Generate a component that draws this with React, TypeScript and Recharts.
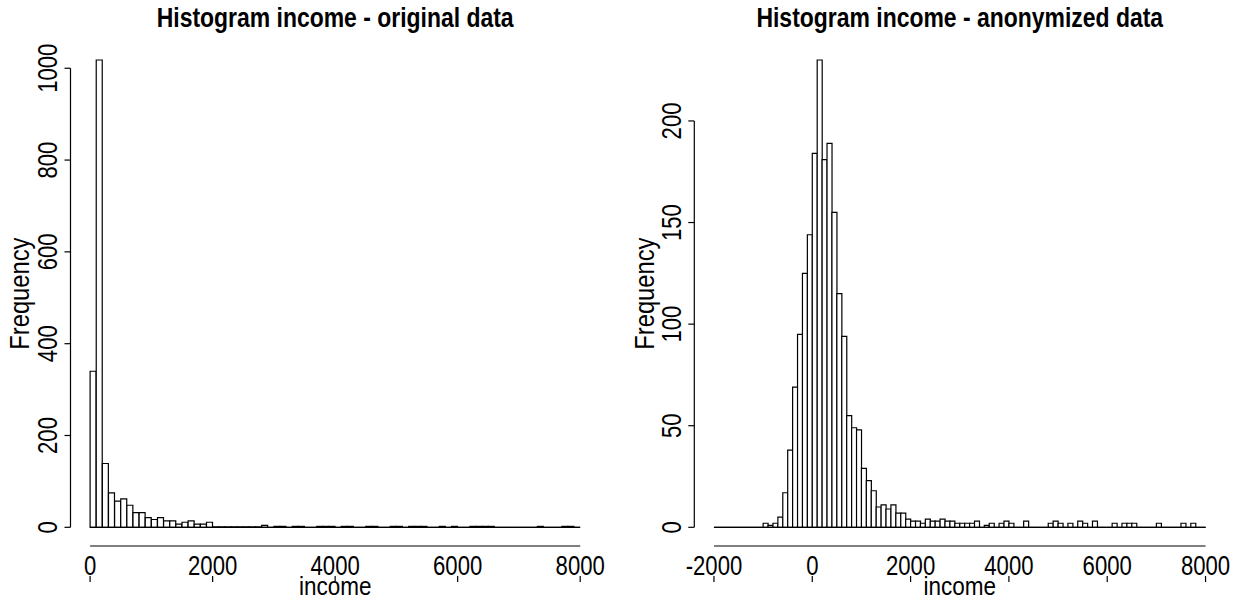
import React from 'react';
import { BarChart, Bar, XAxis, YAxis, ReferenceLine } from 'recharts';

const FONT = '"Liberation Sans", Arial, Helvetica, sans-serif';

// Histogram of the original data: bins of 100 starting at 0
const origBreakStart = 0;
const origBinWidth = 100;
const origCounts = [
  340, 1018, 139, 75, 57, 62, 48, 32, 32, 21,
  17, 21, 14, 14, 7, 11, 14, 7, 7, 11,
  1, 1, 1, 1, 1, 1, 1, 1, 4, 0,
  2, 2, 0, 2, 2, 0, 0, 2, 2, 2,
  0, 2, 2, 0, 0, 2, 2, 0, 0, 2,
  2, 0, 2, 2, 2, 0, 0, 2, 0, 2,
  0, 0, 2, 2, 2, 2, 0, 0, 0, 0,
  0, 0, 0, 2, 0, 0, 0, 2, 2, 0,
];
const origXTicks = [0, 2000, 4000, 6000, 8000];
const origYTicks = [0, 200, 400, 600, 800, 1000];

// Histogram of the anonymized data: bins of 100 starting at -2000
const anonBreakStart = -2000;
const anonBinWidth = 100;
const anonCounts = [
  0, 0, 0, 0, 0, 0, 0, 0, 0, 0,
  2, 1, 2, 5, 17, 38, 69, 95, 125, 144,
  184, 230, 181, 189, 155, 115, 94, 55, 49, 48,
  29, 23, 18, 10, 11, 9, 11, 7, 7, 4,
  3, 3, 2, 4, 3, 3, 4, 3, 3, 2,
  2, 2, 2, 3, 0, 1, 2, 0, 2, 3,
  2, 0, 0, 3, 0, 0, 0, 0, 2, 3,
  2, 0, 2, 0, 3, 2, 0, 3, 0, 0,
  0, 2, 0, 2, 2, 2, 0, 0, 0, 0,
  2, 0, 0, 0, 0, 2, 0, 2, 0, 0,
];
const anonXTicks = [-2000, 0, 2000, 4000, 6000, 8000];
const anonYTicks = [0, 50, 100, 150, 200];

const toBins = (start: number, width: number, counts: number[]) =>
  counts.map((count, i) => ({ bin: start + i * width, mid: start + (i + 0.5) * width, count }));

const PAGE_W = 1235;
const PAGE_H = 601;
const PLOT_TOP = 41.3;
const PLOT_BOTTOM = 546;
const TICK_BASE = 575;

const HistBar = (props: any) => {
  const { x, y, width, height } = props;
  if (x == null || y == null) return null;
  const d = `M${x},${y + height}V${y}H${x + width}V${y + height}Z`;
  return <path d={d} fill="#fff" stroke="#000" strokeWidth={1.2} />;
};

const XTick = (props: any) => {
  const { x, payload } = props;
  return (
    <text
      transform={`translate(${x},${TICK_BASE}) scale(0.82,1)`}
      textAnchor="middle"
      fontSize={27}
      fontFamily={FONT}
      fill="#000"
    >
      {payload.value}
    </text>
  );
};

const YTick = (props: any) => {
  const { y, payload, labelX } = props;
  return (
    <text
      transform={`translate(${labelX},${y}) rotate(-90) scale(0.82,1)`}
      textAnchor="middle"
      fontSize={27}
      fontFamily={FONT}
      fill="#000"
    >
      {payload.value}
    </text>
  );
};

interface PanelProps {
  left: number;
  width: number;
  plotLeft: number;
  plotRight: number;
  counts: number[];
  breakStart: number;
  binWidth: number;
  xTicks: number[];
  yTicks: number[];
  labelX: number;
}

const HistPanel = ({ left, width, plotLeft, plotRight, counts, breakStart, binWidth, xTicks, yTicks, labelX }: PanelProps) => {
  const data = toBins(breakStart, binWidth, counts);
  const xMin = breakStart;
  const xMax = breakStart + counts.length * binWidth;
  const xRange = xMax - xMin;
  const yMax = Math.max(...counts);
  // R extends the plot region by 4% on every side
  const xDomain = [xMin - 0.04 * xRange, xMax + 0.04 * xRange];
  const yDomain = [-0.04 * yMax, 1.04 * yMax];
  const pad = ((plotRight - plotLeft) * 0.04) / 1.08;

  return (
    <div style={{ position: 'absolute', left, top: 0 }}>
      <BarChart
        width={width}
        height={PAGE_H}
        data={data}
        margin={{ top: PLOT_TOP, right: width - plotRight, bottom: 0, left: 0 }}
        barCategoryGap={0}
        barGap={0}
      >
        <XAxis xAxisId="cat" dataKey="bin" type="category" hide padding={{ left: pad, right: pad }} />
        <XAxis
          xAxisId="num"
          dataKey="mid"
          type="number"
          scale="linear"
          domain={xDomain}
          ticks={xTicks}
          allowDataOverflow
          interval={0}
          axisLine={false}
          stroke="#000"
          tickLine={{ stroke: '#000', strokeWidth: 1.2 }}
          tickSize={6}
          tick={<XTick />}
          height={PAGE_H - PLOT_BOTTOM}
        />
        <YAxis
          type="number"
          domain={yDomain}
          ticks={yTicks}
          allowDataOverflow
          interval={0}
          axisLine={false}
          stroke="#000"
          tickLine={{ stroke: '#000', strokeWidth: 1.2 }}
          tickSize={6}
          tick={<YTick labelX={labelX} />}
          width={plotLeft}
        />
        <Bar xAxisId="cat" dataKey="count" shape={(p: any) => <HistBar {...p} />} isAnimationActive={false} />
        <ReferenceLine
          xAxisId="num"
          segment={[{ x: xMin, y: 0 }, { x: xMax, y: 0 }]}
          stroke="#000"
          strokeWidth={1.2}
          ifOverflow="visible"
        />
        <ReferenceLine
          xAxisId="num"
          segment={[{ x: xDomain[0], y: yTicks[0] }, { x: xDomain[0], y: yTicks[yTicks.length - 1] }]}
          stroke="#000"
          strokeWidth={1.2}
          ifOverflow="visible"
        />
        <ReferenceLine
          xAxisId="num"
          segment={[{ x: xTicks[0], y: yDomain[0] }, { x: xTicks[xTicks.length - 1], y: yDomain[0] }]}
          stroke="#000"
          strokeWidth={1.2}
          ifOverflow="visible"
        />
      </BarChart>
    </div>
  );
};

const App = () => {
  const leftPlot = [70.5, 599.8];
  const rightPlot = [694.3, 1225.2];
  const leftMid = (leftPlot[0] + leftPlot[1]) / 2;
  const rightMid = (rightPlot[0] + rightPlot[1]) / 2;
  const yMid = (PLOT_TOP + PLOT_BOTTOM) / 2;
  const textStyle = { fontFamily: FONT, fill: '#000' };

  return (
    <div style={{ position: 'absolute', left: 0, top: 0, width: PAGE_W, height: PAGE_H, background: '#fff' }}>
      <HistPanel
        left={0}
        width={620}
        plotLeft={leftPlot[0]}
        plotRight={leftPlot[1]}
        counts={origCounts}
        breakStart={origBreakStart}
        binWidth={origBinWidth}
        xTicks={origXTicks}
        yTicks={origYTicks}
        labelX={57}
      />
      <HistPanel
        left={620}
        width={615}
        plotLeft={rightPlot[0] - 620}
        plotRight={rightPlot[1] - 620}
        counts={anonCounts}
        breakStart={anonBreakStart}
        binWidth={anonBinWidth}
        xTicks={anonXTicks}
        yTicks={anonYTicks}
        labelX={61}
      />
      {/* titles and axis labels */}
      <svg width={PAGE_W} height={PAGE_H} style={{ position: 'absolute', left: 0, top: 0, pointerEvents: 'none' }}>
        <text transform={`translate(${leftMid},27) scale(0.85,1)`} textAnchor="middle" fontSize={27} fontWeight="bold" style={textStyle}>
          Histogram income - original data
        </text>
        <text transform={`translate(${rightMid},27) scale(0.85,1)`} textAnchor="middle" fontSize={27} fontWeight="bold" style={textStyle}>
          Histogram income - anonymized data
        </text>
        <text transform={`translate(${leftMid},595) scale(0.9,1)`} textAnchor="middle" fontSize={25} style={textStyle}>
          income
        </text>
        <text transform={`translate(${rightMid},595) scale(0.9,1)`} textAnchor="middle" fontSize={25} style={textStyle}>
          income
        </text>
        <text transform={`translate(29,${yMid}) rotate(-90) scale(0.88,1)`} textAnchor="middle" fontSize={27} style={textStyle}>
          Frequency
        </text>
        <text transform={`translate(654,${yMid}) rotate(-90) scale(0.88,1)`} textAnchor="middle" fontSize={27} style={textStyle}>
          Frequency
        </text>
      </svg>
    </div>
  );
};

export default App;
